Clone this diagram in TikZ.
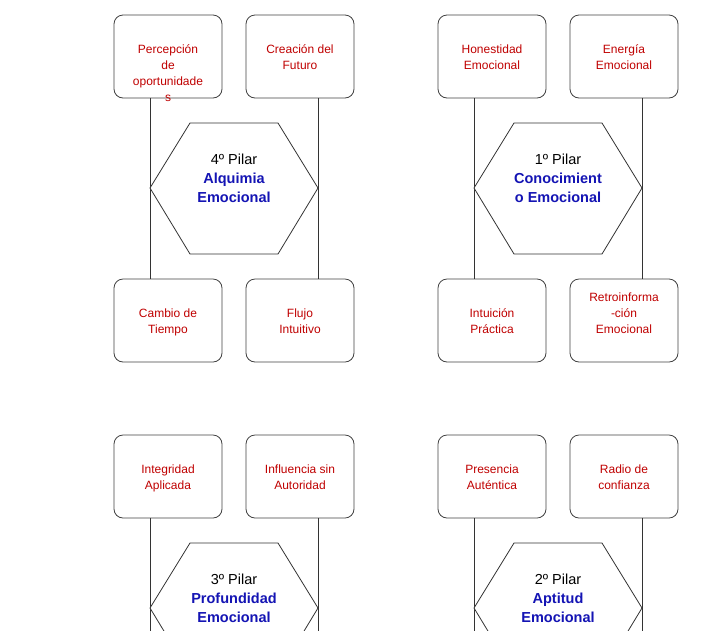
\documentclass[tikz,border=0pt]{standalone}
\usepackage{fontspec}
\setmainfont{Liberation Sans}
\begin{document}
\begin{tikzpicture}[x=1pt,y=-1pt,
  box/.style={draw=black!75,rounded corners=9pt,line width=0.8pt},
  lbl/.style={text=red!75!black,font=\fontsize{12}{16}\selectfont,align=center},
  hexlbl/.style={align=center,font=\fontsize{14.5}{19}\selectfont},
  ln/.style={draw=black!80,line width=0.8pt}]
\useasboundingbox (0,0) rectangle (720,630);
\clip (0,0) rectangle (720,630);
\definecolor{tblue}{RGB}{20,20,180}
% group macro via foreach
\foreach \dx/\dy/\id/\n/\nameA/\nameB/\ta/\tb/\tc/\td [count=\k] in {
 0/0/a/4/{Alquimia}/{Emocional}/{Percepción\\de\\oportunidade\\s}/{Creación del\\Futuro}/{Cambio de\\Tiempo}/{Flujo\\Intuitivo},
 324/0/b/1/{Conocimient}/{o Emocional}/{Honestidad\\Emocional}/{Energía\\Emocional}/{Intuición\\Práctica}/{Retroinforma\\-ción\\Emocional}}
{
 \begin{scope}[shift={(\dx,\dy)}]
 \draw[box] (114,15) rectangle (222,98);
 \draw[box] (246,15) rectangle (354,98);
 \draw[box] (114,279) rectangle (222,362);
 \draw[box] (246,279) rectangle (354,362);
 \draw[ln] (150,98) -- (150,279);
 \draw[ln] (318,98) -- (318,279);
 \draw[ln,fill=white] (150,188) -- (190,123) -- (278,123) -- (318,188) -- (278,254) -- (190,254) -- cycle;
 \node[hexlbl,anchor=north] (h\k) at (234,150) {\n\textordmasculine{} Pilar\\\textcolor{tblue}{\bfseries\nameA}\\\textcolor{tblue}{\bfseries\nameB}};
 \node[lbl,anchor=north] (p\k) at (168,41) {\ta};
 \node[lbl,anchor=north] (q\k) at (300,41) {\tb};
 \end{scope}
}
\node[lbl,anchor=north] (c1) at (168,305) {Cambio de\\Tiempo};
\node[lbl,anchor=north] (d1) at (300,305) {Flujo\\Intuitivo};
\node[lbl,anchor=north] (c2) at (492,305) {Intuición\\Práctica};
\node[lbl,anchor=north] (d2) at (624,289) {Retroinforma\\-ción\\Emocional};
\foreach \dx/\n/\nameA/\ta/\tb [count=\k] in {
 0/3/{Profundidad}/{Integridad\\Aplicada}/{Influencia sin\\Autoridad},
 324/2/{Aptitud}/{Presencia\\Auténtica}/{Radio de\\confianza}}
{
 \begin{scope}[shift={(\dx,0)}]
 \draw[box] (114,435) rectangle (222,518);
 \draw[box] (246,435) rectangle (354,518);
 \draw[ln] (150,518) -- (150,640);
 \draw[ln] (318,518) -- (318,640);
 \draw[ln,fill=white] (150,608) -- (190,543) -- (278,543) -- (318,608) -- (278,674) -- (190,674) -- cycle;
 \node[hexlbl,anchor=north] (g\k) at (234,570) {\n\textordmasculine{} Pilar\\\textcolor{tblue}{\bfseries\nameA}\\\textcolor{tblue}{\bfseries Emocional}};
 \node[lbl,anchor=north] (r\k) at (168,461) {\ta};
 \node[lbl,anchor=north] (s\k) at (300,461) {\tb};
 \end{scope}
}
\end{tikzpicture}
\end{document}
